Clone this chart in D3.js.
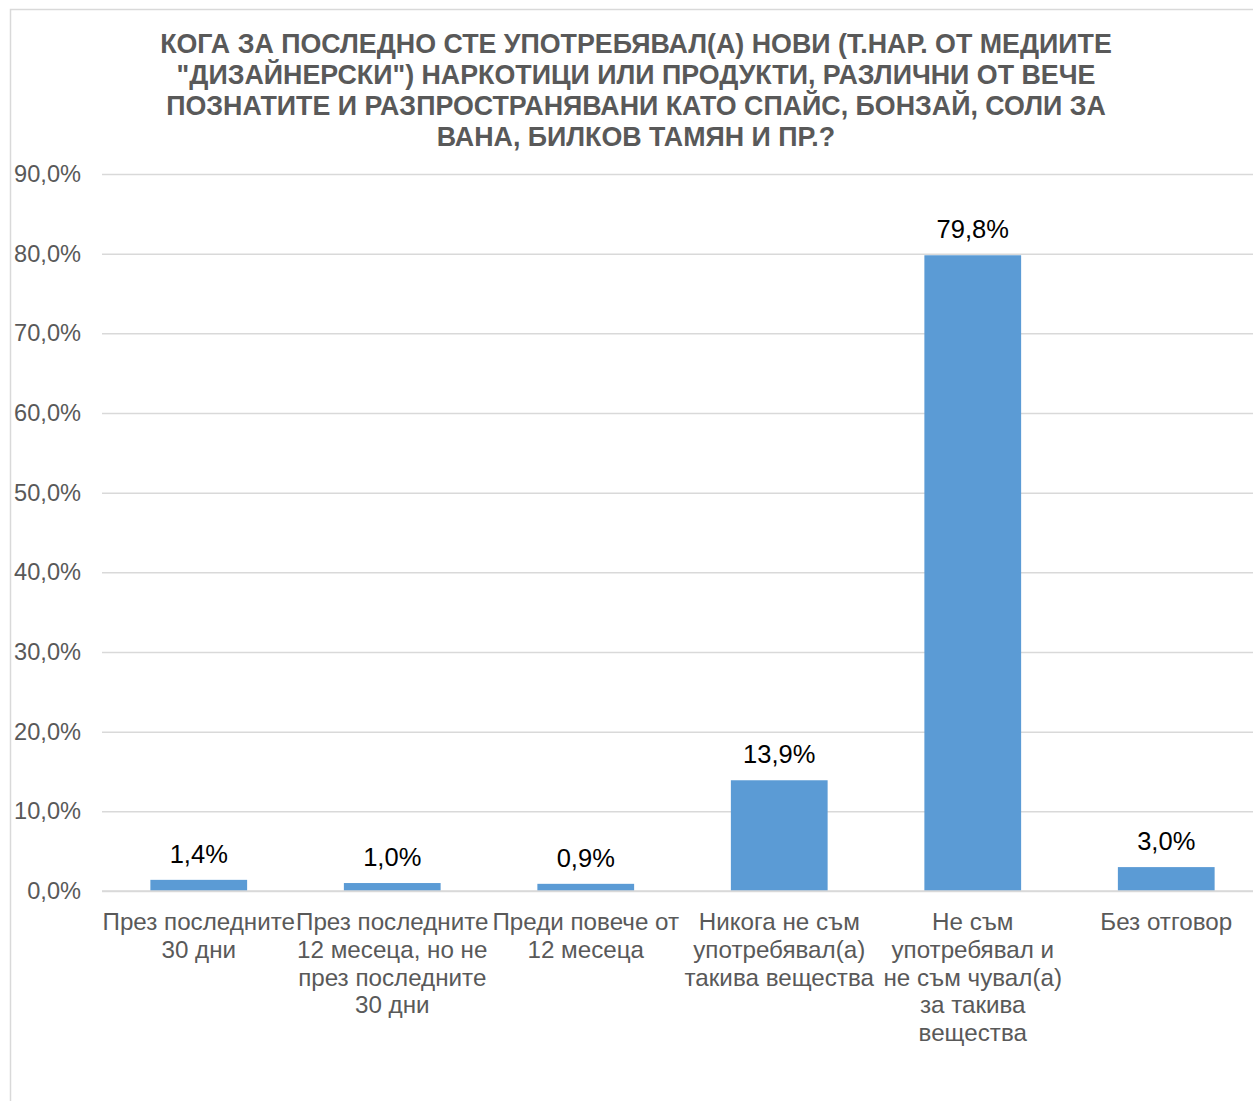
<!DOCTYPE html>
<html>
<head>
<meta charset="utf-8">
<script src="https://cdn.jsdelivr.net/npm/d3@7"></script>
<style>
  body { margin: 0; background: #fff; }
  svg { display: block; font-family: "Liberation Sans", Arial, sans-serif; }
</style>
</head>
<body>
<svg id="chart"></svg>
<script>
// data
const titleLines = [
    'КОГА ЗА ПОСЛЕДНО СТЕ УПОТРЕБЯВАЛ(А) НОВИ (Т.НАР. ОТ МЕДИИТЕ',
    '"ДИЗАЙНЕРСКИ") НАРКОТИЦИ ИЛИ ПРОДУКТИ, РАЗЛИЧНИ ОТ ВЕЧЕ',
    'ПОЗНАТИТЕ И РАЗПРОСТРАНЯВАНИ КАТО СПАЙС, БОНЗАЙ, СОЛИ ЗА',
    'ВАНА, БИЛКОВ ТАМЯН И ПР.?'
]
const categories = [
    ['През последните', '30 дни'],
    ['През последните', '12 месеца, но не', 'през последните', '30 дни'],
    ['Преди повече от', '12 месеца'],
    ['Никога не съм', 'употребявал(а)', 'такива вещества'],
    ['Не съм', 'употребявал и', 'не съм чувал(а)', 'за такива', 'вещества'],
    ['Без отговор']
]
const values = [1.4, 1.0, 0.9, 13.9, 79.8, 3.0]
const yTicks = [0, 10, 20, 30, 40, 50, 60, 70, 80, 90]

const W = 1253, H = 1101
const plot = {left: 102, right: 1263, top: 174, bottom: 891}

const svg = d3.select('#chart').attr('width', W).attr('height', H)

// chart frame (cut off at right/bottom)
svg.append('rect')
    .attr('x', 10.5).attr('y', 9.5)
    .attr('width', W + 20).attr('height', H + 20)
    .attr('fill', '#fff').attr('stroke', '#d9d9d9').attr('stroke-width', 1.5)

const fmt = v => d3.format('.1f')(v).replace('.', ',') + '%'

const x = d3.scaleBand()
    .domain(d3.range(categories.length))
    .range([plot.left, plot.right])
    .paddingInner(0.5).paddingOuter(0.25)
const y = d3.scaleLinear().domain([0, 90]).range([plot.bottom, plot.top])

// title
svg.append('g').selectAll('text')
    .data(titleLines)
    .join('text')
    .attr('x', 636).attr('y', (d, i) => 53 + i * 31)
    .attr('text-anchor', 'middle')
    .attr('font-size', 26.8).attr('font-weight', 'bold')
    .attr('fill', '#595959')
    .text(d => d)

// gridlines + y labels
const yAxis = d3.axisLeft(y).tickValues(yTicks)
    .tickSize(-(plot.right - plot.left)).tickFormat(fmt).tickPadding(21)
const gY = svg.append('g').attr('transform', 'translate(' + plot.left + ',0)').call(yAxis)
gY.select('.domain').remove()
gY.selectAll('line').attr('stroke', '#d9d9d9').attr('stroke-width', 1.5)
gY.selectAll('text').attr('font-size', 23.6).attr('fill', '#595959')
    .attr('font-family', '"Liberation Sans", Arial, sans-serif')

// bars
svg.append('g').selectAll('rect')
    .data(values)
    .join('rect')
    .attr('x', (d, i) => x(i))
    .attr('width', x.bandwidth())
    .attr('y', d => y(d))
    .attr('height', d => y(0) - y(d))
    .attr('fill', '#5b9bd5')

// x axis line
svg.append('line')
    .attr('x1', plot.left).attr('x2', plot.right)
    .attr('y1', y(0)).attr('y2', y(0))
    .attr('stroke', '#d9d9d9').attr('stroke-width', 1.5)

// data labels
svg.append('g').selectAll('text')
    .data(values)
    .join('text')
    .attr('x', (d, i) => x(i) + x.bandwidth() / 2)
    .attr('y', d => y(d) - 17)
    .attr('text-anchor', 'middle')
    .attr('font-size', 25.5).attr('fill', '#000')
    .text(fmt)

// category labels
const cat = svg.append('g').selectAll('text')
    .data(categories)
    .join('text')
    .attr('text-anchor', 'middle')
    .attr('font-size', 24.2).attr('fill', '#595959')
cat.selectAll('tspan')
    .data((d, i) => d.map(s => ({s, i})))
    .join('tspan')
    .attr('x', d => x(d.i) + x.bandwidth() / 2)
    .attr('y', (d, j) => 930 + j * 27.8)
    .text(d => d.s)
</script>
</body>
</html>
